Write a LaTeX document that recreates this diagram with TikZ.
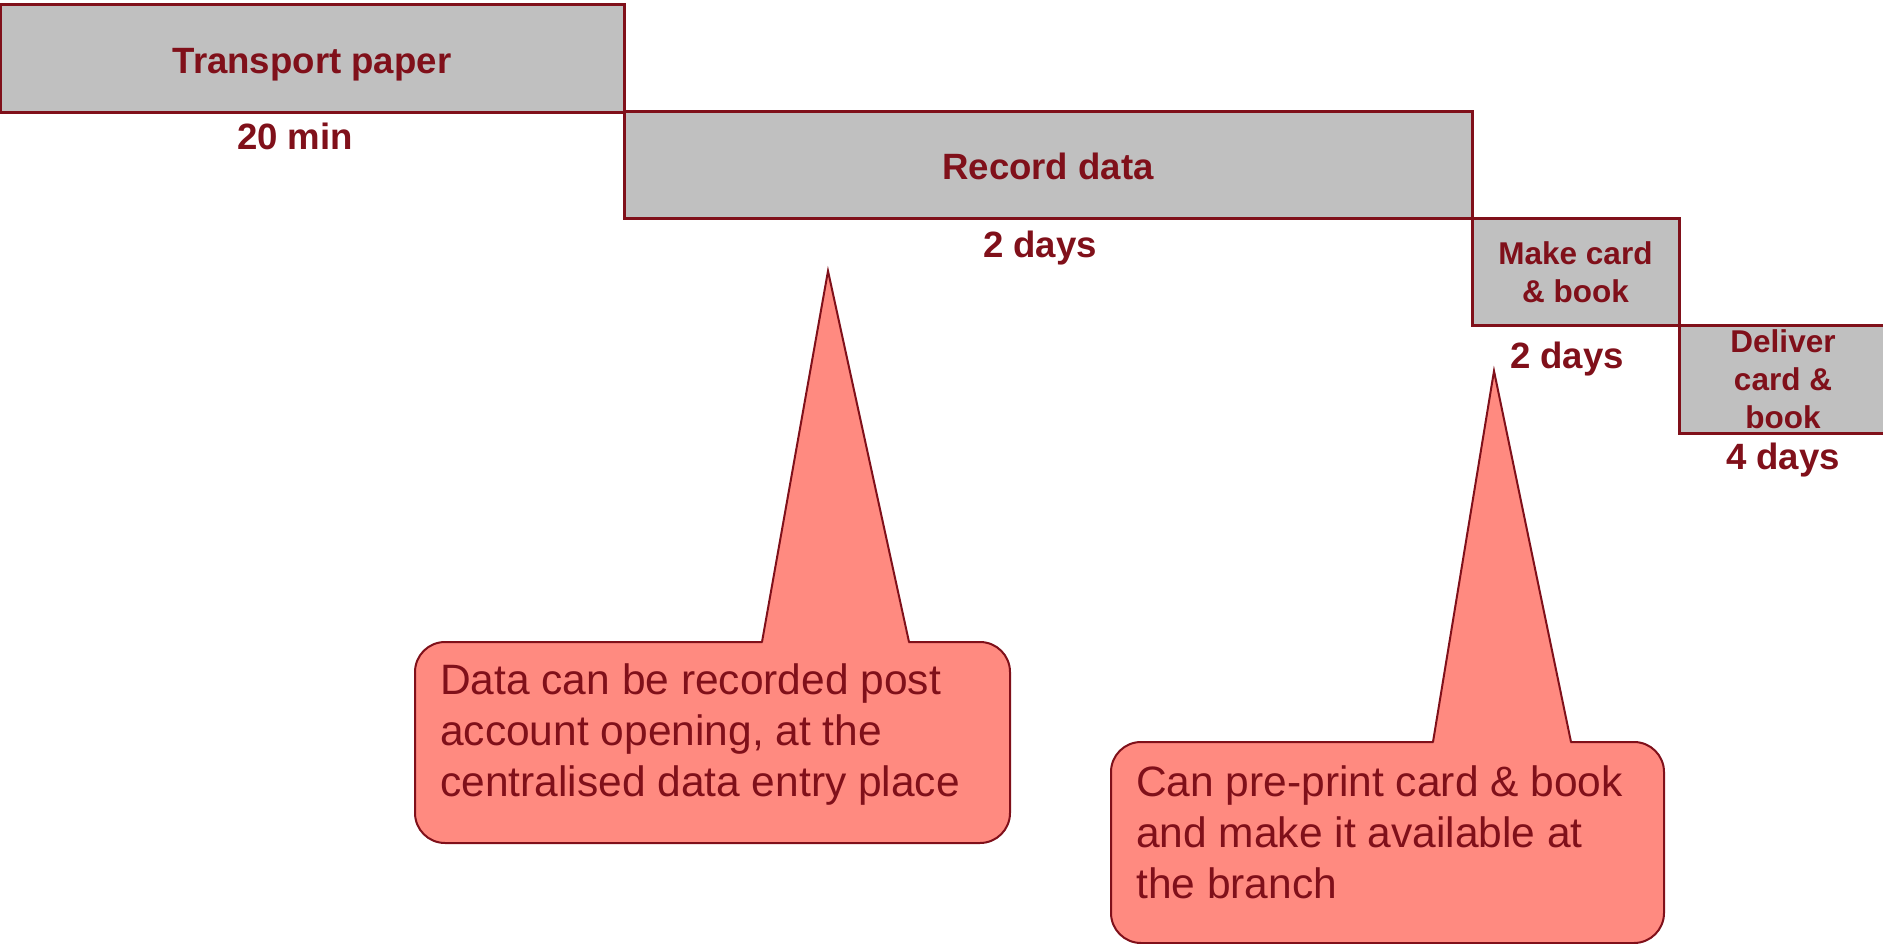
\documentclass[tikz,border=0pt]{standalone}
\usepackage{fontspec}
\setmainfont{Liberation Sans}
\definecolor{maroonline}{RGB}{128,16,26}
\definecolor{boxgray}{RGB}{192,192,192}
\definecolor{calloutfill}{RGB}{255,138,128}
\begin{document}
\begin{tikzpicture}[x=1pt,y=-1pt,
  stepbox/.style={draw=maroonline,fill=boxgray,line width=3pt,inner sep=0pt,
    text=maroonline,font=\fontsize{36.6}{44}\selectfont\bfseries,align=center},
  onelinebox/.style={stepbox,text height=29pt,text depth=0pt},
  smallbox/.style={stepbox,font=\fontsize{31.5}{38}\selectfont\bfseries},
  durlabel/.style={text=maroonline,font=\fontsize{36.6}{44}\selectfont\bfseries,inner sep=0pt},
  callbox/.style={draw=maroonline,fill=calloutfill,line width=2pt,rounded corners=30pt,inner sep=0pt},
  calltext/.style={text=maroonline,font=\fontsize{42.5}{51}\selectfont,align=left,inner sep=0pt,anchor=west},
  pointerside/.style={draw=maroonline,line width=2pt,line join=miter}
]
\useasboundingbox[fill=white] (0,0) rectangle (1883,944);

% process steps
\node[onelinebox,minimum width=624pt,minimum height=108pt] (tp) at (312,59) {Transport paper};
\node[onelinebox,minimum width=848pt,minimum height=107pt] (rd) at (1048,165.5) {Record data};
\node[smallbox,minimum width=207pt,minimum height=106pt] (mc) at (1575.5,272) {Make card\\\& book};
\node[smallbox,minimum width=208pt,minimum height=108pt] (dc) at (1783,379) {Deliver\\card \&\\book};

% durations
\node[durlabel] (d1) at (295,136) {20 min};
\node[durlabel] (d2) at (1040,248.5) {2 days};
\node[durlabel] (d3) at (1567,359.5) {2 days};
\node[durlabel] (d4) at (1783,460.5) {4 days};

% callout 1
\path[callbox] (415,642) rectangle (1010,843);
\coordinate (c1l) at (762,642);
\coordinate (c1t) at (828,271);
\coordinate (c1r) at (909,642);
\fill[calloutfill] ([yshift=-4pt]c1l) -- (c1t) -- ([yshift=-4pt]c1r) -- cycle;
\draw[pointerside] (c1l) -- (c1t) -- (c1r);
\node[calltext] (t1) at (440,735) {Data can be recorded post\\account opening, at the\\centralised data entry place};

% callout 2
\path[callbox] (1111,742) rectangle (1664,943);
\coordinate (c2l) at (1433,742);
\coordinate (c2t) at (1494,371);
\coordinate (c2r) at (1571,742);
\fill[calloutfill] ([yshift=-4pt]c2l) -- (c2t) -- ([yshift=-4pt]c2r) -- cycle;
\draw[pointerside] (c2l) -- (c2t) -- (c2r);
\node[calltext] (t2) at (1136,832) {Can pre-print card \& book\\and make it available at\\the branch};
\end{tikzpicture}
\end{document}
